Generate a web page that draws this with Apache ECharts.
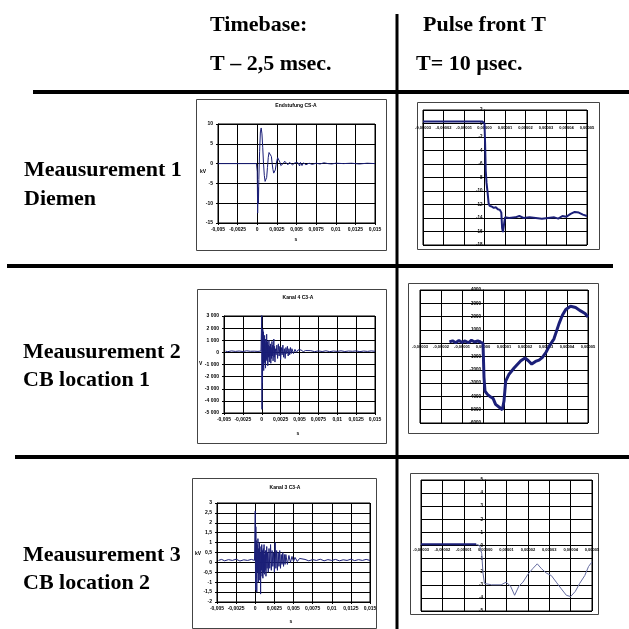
<!DOCTYPE html>
<html>
<head>
<meta charset="utf-8">
<script src="https://cdn.jsdelivr.net/npm/echarts@6/dist/echarts.min.js"></script>
<style>
html,body{margin:0;padding:0;background:#fff;}
#c{width:629px;height:629px;}
</style>
</head>
<body>
<div id="c"></div>
<script>
// ---------- tick labels ----------
const X_TICKS_MS = ["-0,005","-0,0025","0","0,0025","0,005","0,0075","0,01","0,0125","0,015"];
const X_TICKS_US = ["-0,00003","-0,00002","-0,00001","0,00000","0,00001","0,00002","0,00003","0,00004","0,00005"];
const Y_TICKS_1 = ["-15","-10","-5","0","5","10"];
const Y_TICKS_2 = ["-18","-16","-14","-12","-10","-8","-6","-4","-2","0","2"];
const Y_TICKS_3 = ["-5 000","-4 000","-3 000","-2 000","-1 000","0","1 000","2 000","3 000"];
const Y_TICKS_4 = ["-6000","-5000","-4000","-3000","-2000","-1000","0","1000","2000","3000","4000"];
const Y_TICKS_5 = ["-2","-1,5","-1","-0,5","0","0,5","1","1,5","2","2,5","3"];
const Y_TICKS_6 = ["-5","-4","-3","-2","-1","0","1","2","3","4","5"];

// ---------- texts ----------
const HEADERS = ["Timebase:", "T \u2013 2,5 msec.", "Pulse front T", "T= 10 \u00b5sec."];
const ROW_LABELS = [["Meausurement 1","Diemen"],["Meausurement 2","CB location 1"],["Meausurement 3","CB location 2"]];
const CHART_TITLES = ["Endstufung CS-A", "Kanal 4 C3-A", "Kanal 3 C3-A"];

// ---------- series values [time (s), value] ----------
const C1_DATA = [[-0.005,0],[-0.0001,0],[0,-2],[0.00005,-12.5],[0.0001,-6],[0.00015,-10],[0.0002,-4],[0.0003,3],[0.0004,8],[0.0005,9],[0.0006,7.5],[0.0007,4],[0.0008,0],[0.0009,-3],[0.001,-4.5],[0.0011,-4.8],[0.0012,-3.5],[0.0013,-1],[0.0014,1.5],[0.0015,2.8],[0.0016,3.2],[0.0017,3],[0.0018,1.8],[0.0019,0],[0.002,-1.5],[0.0021,-2.4],[0.0022,-2.5],[0.0023,-1.6],[0.0024,-0.3],[0.0025,0.8],[0.0026,1.5],[0.0027,1.7],[0.0028,1.2],[0.0029,0.3],[0.003,-0.5],[0.0031,-0.8],[0.0032,-0.6],[0.0033,0],[0.0035,0.6],[0.0037,0.2],[0.0039,-0.3],[0.0041,0.3],[0.0043,0],[0.0045,-0.3],[0.0048,0.2],[0.005,-0.2],[0.0052,0.2],[0.0054,-0.6],[0.0055,0.3],[0.0057,-0.5],[0.0059,0.2],[0.0062,-0.3],[0.0066,0.1],[0.007,-0.2],[0.0075,0.1],[0.008,-0.1],[0.0085,0.2],[0.009,0],[0.0095,-0.1],[0.01,0.1],[0.011,0],[0.012,0.1],[0.013,-0.1],[0.014,0.1],[0.015,0]];

const C2_DATA = [[-3e-5,0.3],[-1e-6,0.3],[0,0],[3e-7,-3],[6e-7,-7],[1e-6,-8.8],[1.5e-6,-10.2],[2e-6,-11.8],[2.5e-6,-12.2],[3.5e-6,-12.3],[4.5e-6,-12.5],[5.5e-6,-12.4],[6.5e-6,-12.7],[7.5e-6,-12.8],[8.2e-6,-13.2],[8.6e-6,-15.5],[9e-6,-16.1],[9.5e-6,-15],[1e-5,-13.9],[1.2e-5,-14.0],[1.5e-5,-13.9],[1.7e-5,-13.7],[1.9e-5,-14],[2.2e-5,-13.9],[2.5e-5,-14],[2.8e-5,-14.1],[3.1e-5,-14.0],[3.4e-5,-13.9],[3.6e-5,-14.1],[3.8e-5,-13.7],[4e-5,-13.8],[4.2e-5,-13.4],[4.4e-5,-13.1],[4.6e-5,-13.2],[4.8e-5,-13.5],[5e-5,-13.7]];

const C3_DATA = [[-0.0048,100],[-0.0045,60],[-0.004,120],[-0.0035,80],[-0.003,110],[-0.0025,70],[-0.002,130],[-0.0015,90],[-0.001,100],[-0.0005,80],[-0.0001,110],[0,3100],[0.00003,-4700],[0.00006,1500],[0.0001,-2500],[0.00014,1900],[0.00018,-1200],[0.00022,1700],[0.00026,-1500],[0.0003,1200],[0.00034,-800],[0.00038,1400],[0.00042,-900],[0.00046,1100],[0.0005,-1300],[0.00055,800],[0.0006,-600],[0.00065,1500],[0.0007,-700],[0.00075,900],[0.0008,-1100],[0.00085,600],[0.0009,-400],[0.00095,1000],[0.001,-800],[0.00105,500],[0.0011,-300],[0.00115,700],[0.0012,-900],[0.00125,400],[0.0013,-500],[0.00135,900],[0.0014,-300],[0.00145,600],[0.0015,-700],[0.0016,1100],[0.00165,-400],[0.0017,500],[0.00175,-800],[0.0018,300],[0.0019,-200],[0.002,600],[0.0021,-500],[0.0022,700],[0.0023,-300],[0.0024,500],[0.0025,-600],[0.0026,400],[0.0027,-200],[0.0028,600],[0.0029,-400],[0.003,300],[0.0031,-500],[0.0032,400],[0.0033,-100],[0.0034,500],[0.0035,-300],[0.0036,300],[0.0037,-200],[0.0038,400],[0.0039,-100],[0.004,300],[0.0042,-100],[0.0044,250],[0.0046,0],[0.0048,200],[0.005,50],[0.0052,200],[0.0055,60],[0.0058,150],[0.006,80],[0.0065,140],[0.007,60],[0.0075,120],[0.008,70],[0.0085,130],[0.009,60],[0.0095,110],[0.01,80],[0.0105,130],[0.011,70],[0.0115,110],[0.012,90],[0.0125,120],[0.013,60],[0.0135,110],[0.014,80],[0.0145,120],[0.015,90]];

const C4_DATA = [[-1.6e-5,100],[-1.45e-5,180],[-1.3e-5,40],[-1.15e-5,200],[-1e-5,60],[-8.5e-6,170],[-7e-6,30],[-5.5e-6,220],[-4e-6,90],[-2.5e-6,180],[-1e-6,60],[-2e-7,140],[0,0],[4.8e-7,-2580],[9.5e-7,-3600],[2.1e-6,-3850],[3.7e-6,-4050],[4.8e-6,-4150],[6e-6,-4600],[7.6e-6,-4800],[9.2e-6,-5000],[1e-5,-4350],[1.08e-5,-2850],[1.24e-5,-2330],[1.48e-5,-1870],[1.8e-5,-1320],[2e-5,-1110],[2.16e-5,-1320],[2.32e-5,-1570],[2.5e-5,-1370],[2.67e-5,-1270],[2.83e-5,-1060],[3e-5,-680],[3.17e-5,-180],[3.38e-5,330],[3.62e-5,1470],[3.78e-5,2100],[3.94e-5,2530],[4.17e-5,2780],[4.41e-5,2680],[4.65e-5,2430],[4.86e-5,2230],[5e-5,1970]];

const C5_DATA = [[-0.0048,0.1],[-0.0044,0.15],[-0.004,0.08],[-0.0035,0.14],[-0.003,0.1],[-0.0025,0.16],[-0.002,0.07],[-0.0015,0.13],[-0.001,0.1],[-0.0005,0.15],[-0.0001,0.1],[0,2.6],[0.00004,-1.4],[0.00008,1.8],[0.00012,-0.8],[0.00016,1.1],[0.0002,-1.5],[0.00025,0.9],[0.0003,-0.5],[0.00035,1.2],[0.0004,-1.0],[0.00045,0.7],[0.0005,-0.6],[0.00055,1.0],[0.0006,-0.9],[0.00065,0.5],[0.0007,-1.6],[0.00075,0.8],[0.0008,-0.4],[0.00085,0.9],[0.0009,-0.7],[0.00095,0.6],[0.001,-0.8],[0.00105,0.7],[0.0011,-0.5],[0.00115,0.9],[0.0012,-0.6],[0.00125,0.4],[0.0013,-0.4],[0.00135,0.6],[0.0014,-0.7],[0.0015,0.8],[0.00155,-0.3],[0.0016,0.5],[0.0017,-0.5],[0.0018,0.7],[0.0019,-0.3],[0.002,0.9],[0.0021,-0.4],[0.0022,0.6],[0.0023,-0.2],[0.0024,0.5],[0.0025,-0.5],[0.0026,1.0],[0.0027,-0.3],[0.0028,0.6],[0.0029,-0.4],[0.003,0.5],[0.0031,-0.2],[0.0032,0.6],[0.0033,-0.3],[0.0034,0.4],[0.0035,-0.1],[0.0036,0.5],[0.0037,-0.2],[0.0038,0.4],[0.0039,-0.1],[0.004,0.4],[0.0042,-0.1],[0.0044,0.35],[0.0046,0],[0.0048,0.3],[0.005,0.05],[0.0052,0.25],[0.0055,0.05],[0.0058,0.2],[0.006,0.1],[0.0065,0.15],[0.007,0.08],[0.0075,0.14],[0.008,0.1],[0.0085,0.16],[0.009,0.08],[0.0095,0.14],[0.01,0.1],[0.0105,0.15],[0.011,0.08],[0.0115,0.13],[0.012,0.1],[0.0125,0.16],[0.013,0.09],[0.0135,0.14],[0.014,0.1],[0.0145,0.15],[0.015,0.1]];

const C6_PRE = [[-3e-5,0.1],[-4.2e-6,0.1]];
const C6_DATA = [[-4.2e-6,0.1],[-2.6e-6,0],[-1.6e-6,-0.6],[-1e-6,-2.1],[-3e-7,-2.9],[3e-6,-3.0],[7.5e-6,-3.0],[9.8e-6,-2.8],[1.19e-5,-3.1],[1.38e-5,-3.8],[1.58e-5,-3.1],[1.77e-5,-2.8],[2e-5,-2.2],[2.23e-5,-1.76],[2.44e-5,-1.4],[2.63e-5,-1.76],[2.86e-5,-2.1],[3.1e-5,-2.3],[3.33e-5,-2.8],[3.56e-5,-3.3],[3.8e-5,-3.8],[4e-5,-3.9],[4.22e-5,-3.5],[4.42e-5,-2.9],[4.66e-5,-2.3],[4.84e-5,-1.6],[5e-5,-1.25]];

// ---------- layout ----------
const GRIDS = [
  {left:218, top:124, width:157, height:99},
  {left:423, top:110, width:164, height:135},
  {left:224, top:316, width:151, height:97},
  {left:420, top:290, width:168, height:133},
  {left:217, top:503, width:153, height:99},
  {left:421, top:480, width:171, height:131}
];
const BOXES = [
  [196,99,190,151],[417,102,182,147],
  [197,289,189,154],[408,283,190,150],
  [192,478,184,150],[410,473,188,141]
];

const LINE_COLOR = '#1b1f78';
const SMALL_FONT = 'Liberation Sans, Arial, sans-serif';

function fmtFrom(labels, min, interval) {
  return function (v) {
    const i = Math.round((v - min) / interval);
    return labels[i] !== undefined ? labels[i] : '';
  };
}

const AXES = [
  {x:[-0.005,0.015,0.0025,X_TICKS_MS], y:[-15,10,5,Y_TICKS_1], zero:false},
  {x:[-3e-5,5e-5,1e-5,X_TICKS_US], y:[-18,2,2,Y_TICKS_2], zero:true},
  {x:[-0.005,0.015,0.0025,X_TICKS_MS], y:[-5000,3000,1000,Y_TICKS_3], zero:false},
  {x:[-3e-5,5e-5,1e-5,X_TICKS_US], y:[-6000,4000,1000,Y_TICKS_4], zero:true},
  {x:[-0.005,0.015,0.0025,X_TICKS_MS], y:[-2,3,0.5,Y_TICKS_5], zero:false},
  {x:[-3e-5,5e-5,1e-5,X_TICKS_US], y:[-5,5,1,Y_TICKS_6], zero:true}
];

const grid = GRIDS.map(g => Object.assign({show:true, borderColor:'#000', borderWidth:1, backgroundColor:'#fff', containLabel:false}, g));

function labelStyle(size) {
  return {fontSize:size, fontWeight:'bold', color:'#000', fontFamily:SMALL_FONT};
}

// axes crossing at zero (Excel style) for the pulse-front charts: shift axis by offset to the 0 position
const xAxis = AXES.map((a, i) => {
  const g = GRIDS[i];
  const off = a.zero ? -g.height * (0 - a.y[0]) / (a.y[1] - a.y[0]) : 0;
  return {
    type:'value', gridIndex:i, min:a.x[0], max:a.x[1], interval:a.x[2], position:'bottom', offset:off,
    axisLine:{show:true, onZero:false, lineStyle:{color:'#000', width:1}},
    axisTick:{show:true, length:2, lineStyle:{color:'#000'}},
    splitLine:{show:true, lineStyle:{color:'#000', width:1}},
    axisLabel:Object.assign({margin:a.zero ? 2 : 4, formatter:fmtFrom(a.x[3], a.x[0], a.x[2]), showMinLabel:true, showMaxLabel:true}, labelStyle(a.zero ? 4 : 5))
  };
});
const yAxis = AXES.map((a, i) => {
  const g = GRIDS[i];
  const off = a.zero ? -g.width * (0 - a.x[0]) / (a.x[1] - a.x[0]) : 0;
  return {
    type:'value', gridIndex:i, min:a.y[0], max:a.y[1], interval:a.y[2], position:'left', offset:off,
    axisLine:{show:true, onZero:false, lineStyle:{color:'#000', width:1}},
    axisTick:{show:true, length:2, lineStyle:{color:'#000'}},
    splitLine:{show:true, lineStyle:{color:'#000', width:1}},
    axisLabel:Object.assign({margin:a.zero ? 2 : 5, formatter:fmtFrom(a.y[3], a.y[0], a.y[2]), showMinLabel:true, showMaxLabel:true}, labelStyle(a.zero ? 4.5 : 5))
  };
});

function line(idx, data, width, color) {
  return {type:'line', xAxisIndex:idx, yAxisIndex:idx, data:data, showSymbol:false, symbol:'none',
    lineStyle:{color:color||LINE_COLOR, width:width}, silent:true, z:3};
}
const series = [
  line(0, C1_DATA, 1),
  line(1, C2_DATA, 2),
  line(2, C3_DATA, 1),
  line(3, C4_DATA, 3),
  line(4, C5_DATA, 1),
  line(5, C6_PRE, 2),
  line(5, C6_DATA, 1, '#646ba0')
];

// ---------- graphic (table frame, texts, chart frames) ----------
const BIG_FONT = 'bold 22px "Liberation Serif", "Times New Roman", serif';
const graphic = [];
function txt(x, y, t, font, align) {
  graphic.push({type:'text', x:x, y:y, z:10, style:{text:t, font:font, fill:'#000', align:align||'left', verticalAlign:'middle'}});
}
function hline(x1, x2, y, w) {
  graphic.push({type:'line', z:10, shape:{x1:x1, y1:y, x2:x2, y2:y}, style:{stroke:'#000', lineWidth:w}});
}
function vline(x, y1, y2, w) {
  graphic.push({type:'line', z:10, shape:{x1:x, y1:y1, x2:x, y2:y2}, style:{stroke:'#000', lineWidth:w}});
}
BOXES.forEach(b => graphic.push({type:'rect', z:-1, shape:{x:b[0]+0.5, y:b[1]+0.5, width:b[2], height:b[3]}, style:{fill:'#fff', stroke:'#444', lineWidth:1}}));

hline(33, 629, 92, 4);
hline(7, 613, 266, 4);
hline(15, 629, 457, 4);
vline(397, 14, 629, 3);

txt(210, 25, HEADERS[0], BIG_FONT);
txt(210, 64, HEADERS[1], BIG_FONT);
txt(423, 25, HEADERS[2], BIG_FONT);
txt(416, 64, HEADERS[3], BIG_FONT);

txt(24, 170, ROW_LABELS[0][0], BIG_FONT); txt(24, 199, ROW_LABELS[0][1], BIG_FONT);
txt(23, 352, ROW_LABELS[1][0], BIG_FONT); txt(23, 380, ROW_LABELS[1][1], BIG_FONT);
txt(23, 555, ROW_LABELS[2][0], BIG_FONT); txt(23, 583, ROW_LABELS[2][1], BIG_FONT);

const SF = 'bold 5px Liberation Sans, Arial, sans-serif';
txt(296, 106, CHART_TITLES[0], SF, 'center');
txt(298, 298, CHART_TITLES[1], SF, 'center');
txt(285, 488, CHART_TITLES[2], SF, 'center');
txt(200, 172, 'kV', SF, 'left');
txt(199, 364, 'V', SF, 'left');
txt(195, 554, 'kV', SF, 'left');
txt(296, 240, 's', SF, 'center');
txt(298, 434, 's', SF, 'center');
txt(291, 622, 's', SF, 'center');

const chart = echarts.init(document.getElementById('c'), null, {renderer:'canvas'});
chart.setOption({
  animation:false,
  backgroundColor:'#fff',
  grid:grid, xAxis:xAxis, yAxis:yAxis, series:series, graphic:graphic
});
</script>
</body>
</html>
